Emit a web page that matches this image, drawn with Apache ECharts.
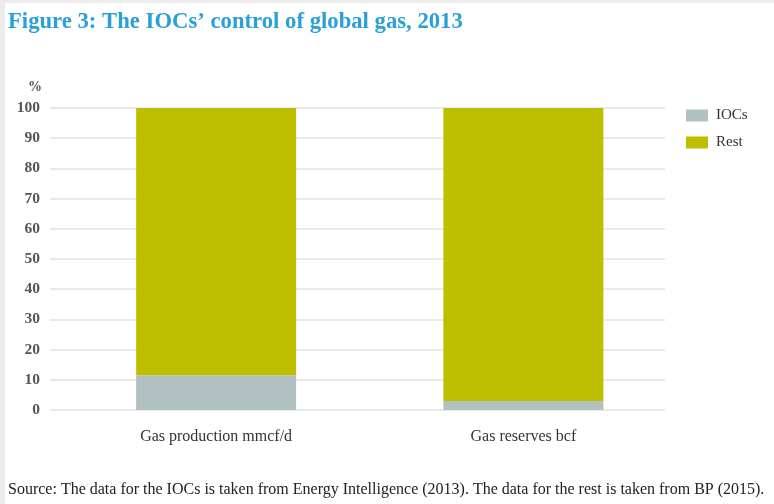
<!DOCTYPE html>
<html>
<head>
<meta charset="utf-8">
<script src="https://cdn.jsdelivr.net/npm/echarts@6/dist/echarts.min.js"></script>
<style>
  body { margin: 0; background: #ececec; }
  #main { position: absolute; left: 5px; top: 3px; width: 769px; height: 501px; background: #fff; }
</style>
</head>
<body>
<div id="main"></div>
<script>
let categories = ['Gas production mmcf/d', 'Gas reserves bcf']
let iocsValues = [11.5, 3]
let restValues = [88.5, 97]
let yTicks = [0, 10, 20, 30, 40, 50, 60, 70, 80, 90, 100]

let serif = '"Liberation Serif", "DejaVu Serif", serif'
let myChart = echarts.init(document.getElementById('main'))

let option = {
  backgroundColor: '#fff',
  animation: false,
  title: [
    {
      text: 'Figure 3: The IOCs\u2019 control of global gas, 2013',
      left: 3,
      top: 8,
      padding: 0,
      textStyle: { color: '#2a9fda', fontFamily: serif, fontSize: 22.7, fontWeight: 'bold' }
    },
    {
      text: 'Source: The data for the IOCs is taken from Energy Intelligence (2013). The data for the rest is taken from BP (2015).',
      left: 3,
      top: 479,
      padding: 0,
      textStyle: { color: '#222', fontFamily: serif, fontSize: 16, fontWeight: 'normal' }
    }
  ],
  legend: {
    orient: 'vertical',
    left: 681,
    top: 105,
    padding: 0,
    icon: 'rect',
    itemWidth: 22,
    itemHeight: 12,
    itemGap: 12,
    textStyle: { color: '#333', fontFamily: serif, fontSize: 15, padding: [0, 0, 0, 3] },
    data: ['IOCs', 'Rest']
  },
  grid: [
    { left: 45, right: 109, top: 105, height: 302 },
    { left: 57.5, right: 97, top: 105, height: 302 }
  ],
  xAxis: [
    { gridIndex: 0, type: 'category', data: categories, show: false },
    {
      gridIndex: 1,
      type: 'category',
      data: categories,
      axisLine: { show: false },
      axisTick: { show: false },
      axisLabel: { margin: 19, color: '#333', fontFamily: serif, fontSize: 16 }
    }
  ],
  yAxis: [
    {
      gridIndex: 0,
      type: 'value',
      min: yTicks[0],
      max: yTicks[yTicks.length - 1],
      interval: 10,
      name: '%',
      nameLocation: 'end',
      nameGap: 14,
      nameTextStyle: { color: '#555', fontFamily: serif, fontSize: 14, fontWeight: 'bold', align: 'right', padding: [0, 8, 0, 0] },
      axisLine: { show: false },
      axisTick: { show: false },
      axisLabel: { margin: 10, color: '#555', fontFamily: serif, fontSize: 15.5, fontWeight: 'bold' },
      splitLine: { lineStyle: { color: '#dbe4e3', width: 1.5 } }
    },
    {
      gridIndex: 1,
      type: 'value',
      min: yTicks[0],
      max: yTicks[yTicks.length - 1],
      show: false,
      splitLine: { show: false }
    }
  ],
  series: [
    {
      name: 'IOCs',
      type: 'bar',
      stack: 'total',
      xAxisIndex: 1,
      yAxisIndex: 1,
      barWidth: 160,
      itemStyle: { color: '#b1c0c0' },
      data: iocsValues
    },
    {
      name: 'Rest',
      type: 'bar',
      stack: 'total',
      xAxisIndex: 1,
      yAxisIndex: 1,
      barWidth: 160,
      itemStyle: { color: '#bdbe00' },
      data: restValues
    }
  ]
}
myChart.setOption(option)
</script>
</body>
</html>
